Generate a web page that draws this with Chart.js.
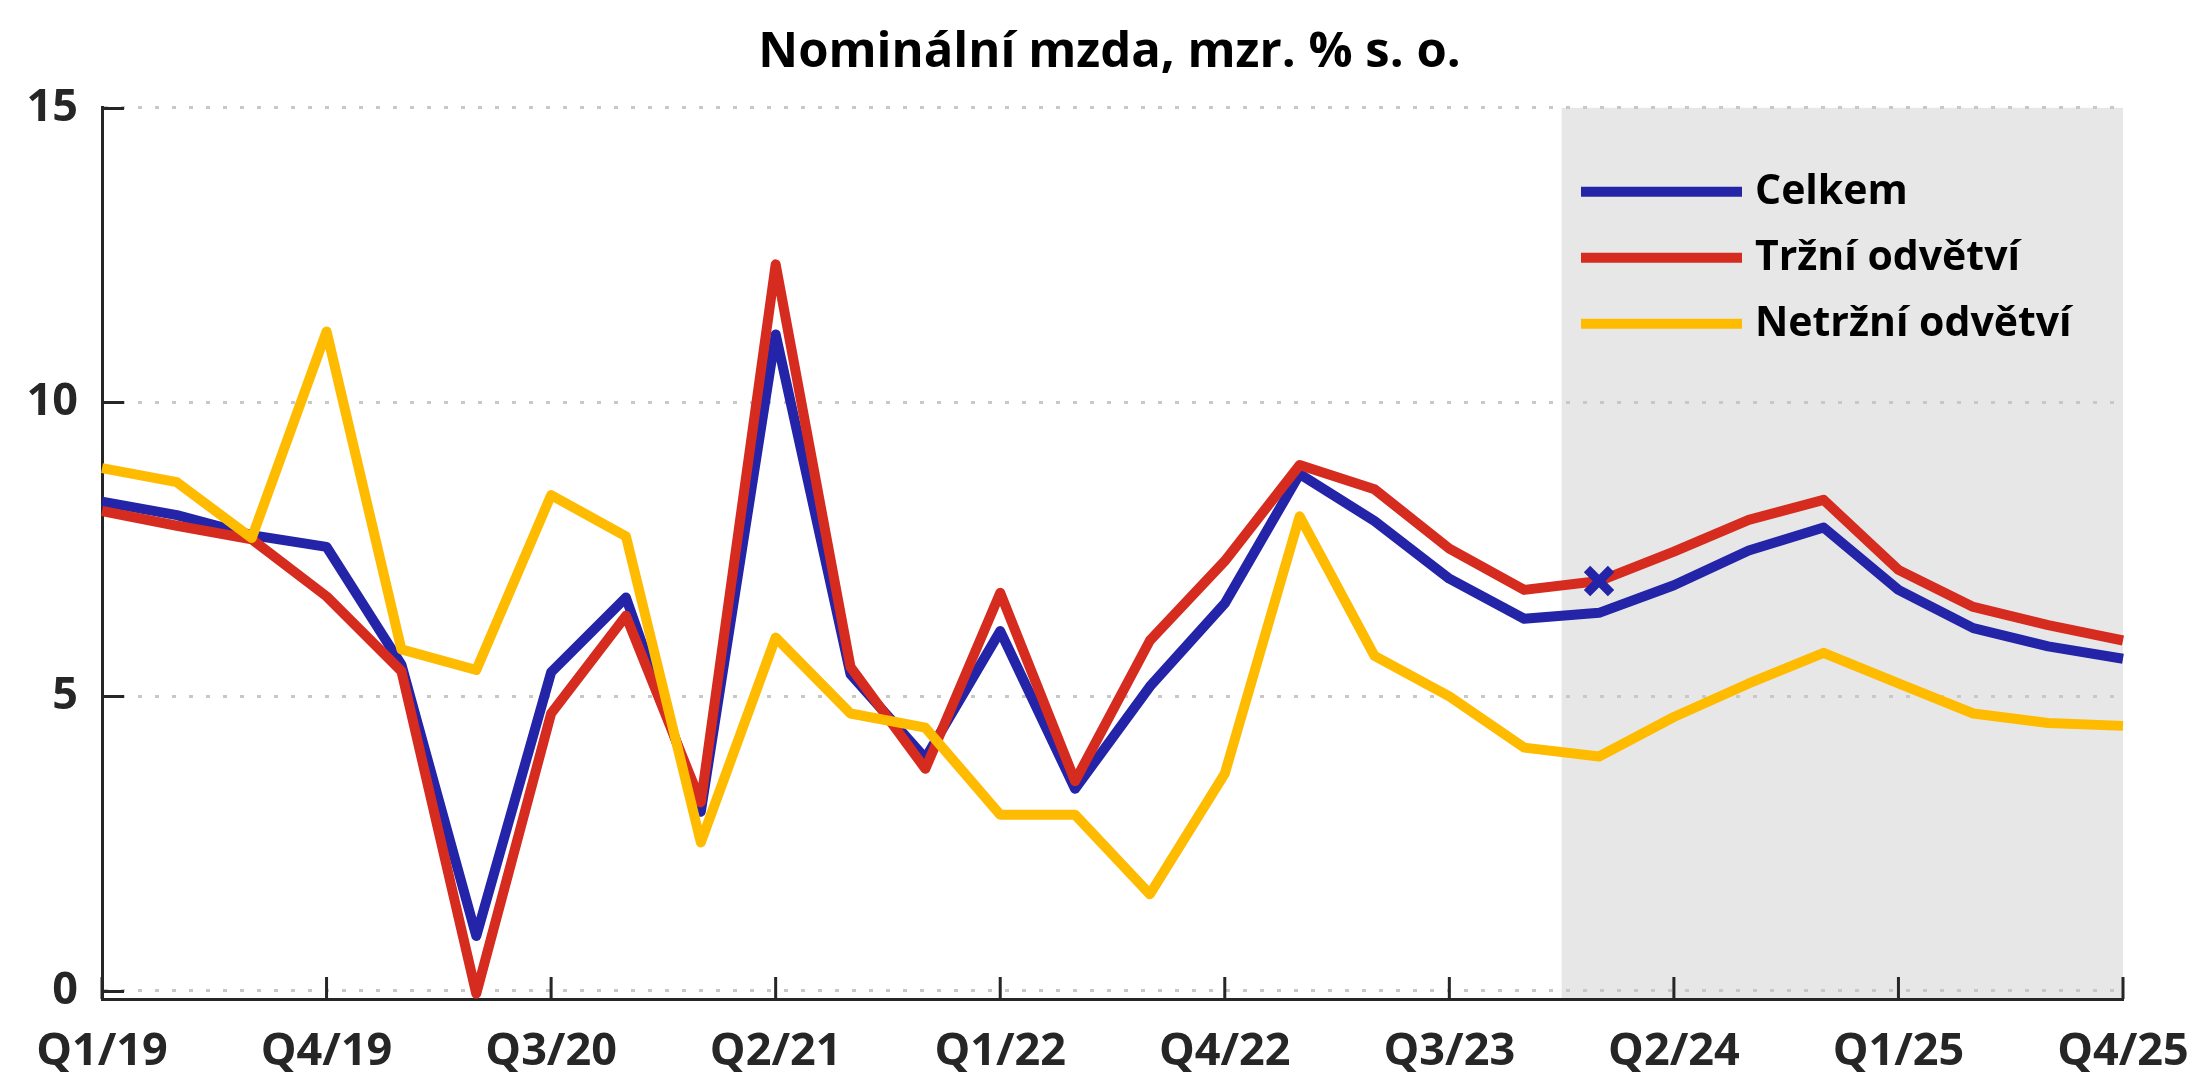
<!DOCTYPE html>
<html>
<head>
<meta charset="utf-8">
<script src="https://cdn.jsdelivr.net/npm/chart.js@4.4.1/dist/chart.umd.min.js"></script>
<style>
  html, body { margin: 0; padding: 0; background: #ffffff; }
  #wrap { width: 2203px; height: 1075px; }
</style>
</head>
<body>
<div id="wrap"><canvas id="wageChart" width="2203" height="1075"></canvas></div>
<script>
const quarters = [
    'Q1/19', 'Q2/19', 'Q3/19', 'Q4/19', 'Q1/20', 'Q2/20', 'Q3/20',
    'Q4/20', 'Q1/21', 'Q2/21', 'Q3/21', 'Q4/21', 'Q1/22', 'Q2/22',
    'Q3/22', 'Q4/22', 'Q1/23', 'Q2/23', 'Q3/23', 'Q4/23', 'Q1/24',
    'Q2/24', 'Q3/24', 'Q4/24', 'Q1/25', 'Q2/25', 'Q3/25', 'Q4/25'
];
const celkem = [8.31, 8.08, 7.74, 7.54, 5.54, 0.93, 5.41, 6.68, 3.04, 11.15, 5.38, 3.95, 6.11, 3.43,
                5.17, 6.58, 8.78, 7.98, 7.0, 6.32, 6.42, 6.89, 7.48, 7.87, 6.81, 6.16, 5.85, 5.64];
const trzni = [8.15, 7.9, 7.67, 6.7, 5.43, -0.05, 4.71, 6.37, 3.2, 12.34, 5.5, 3.77, 6.76, 3.56,
               5.95, 7.3, 8.93, 8.52, 7.51, 6.81, 6.96, 7.46, 8.0, 8.34, 7.15, 6.52, 6.21, 5.95];
const netrzni = [8.88, 8.64, 7.69, 11.2, 5.8, 5.45, 8.42, 7.72, 2.52, 6.0, 4.71, 4.47, 2.99, 2.99,
                 1.64, 3.69, 8.06, 5.69, 5.0, 4.13, 3.98, 4.65, 5.22, 5.74, 5.22, 4.71, 4.55, 4.5];
// last known value (Q1/24), marked with a cross
const markerValues = [null, null, null, null, null, null, null, null, null, null, null, null, null, null,
                      null, null, null, null, null, null, 6.96, null, null, null, null, null, null, null];
const yTicks = [0, 5, 10, 15];
const forecastStart = 19.5; // shaded forecast starts between Q4/23 and Q1/24

const FONT = "'Open Sans', sans-serif";
const AXIS = '#262626';

// grey forecast band behind everything
const forecastBand = {
    id: 'forecastBand',
    beforeDraw(chart) {
        const { ctx, chartArea, scales } = chart;
        const x0 = scales.x.getPixelForValue(forecastStart);
        const top = scales.y.getPixelForValue(15);
        ctx.save();
        ctx.fillStyle = '#e7e7e7';
        ctx.fillRect(x0, top, chartArea.right - x0, chartArea.bottom - top);
        ctx.restore();
    }
};

// tick marks pointing into the plot
const innerTicks = {
    id: 'innerTicks',
    beforeDatasetsDraw(chart) {
        const { ctx, chartArea, scales } = chart;
        ctx.save();
        ctx.strokeStyle = AXIS;
        ctx.lineWidth = 3;
        ctx.beginPath();
        yTicks.forEach(v => {
            const py = Math.round(scales.y.getPixelForValue(v)) + 0.5;
            ctx.moveTo(chartArea.left, py);
            ctx.lineTo(chartArea.left + 22, py);
        });
        quarters.forEach((q, i) => {
            if (i % 3 !== 0) return;
            const px = scales.x.getPixelForValue(i);
            ctx.moveTo(px, chartArea.bottom);
            ctx.lineTo(px, chartArea.bottom - 22);
        });
        ctx.stroke();
        ctx.restore();
    }
};

// legend drawn inside the shaded area
const insideLegend = {
    id: 'insideLegend',
    afterDatasetsDraw(chart) {
        const { ctx, chartArea } = chart;
        const lx = chartArea.right - 542;
        ctx.save();
        ctx.font = 'bold 41px ' + FONT;
        ctx.textBaseline = 'middle';
        ctx.textAlign = 'left';
        chart.data.datasets.slice(0, 3).forEach((ds, k) => {
            const ly = chartArea.top + 84 + k * 66;
            ctx.strokeStyle = ds.borderColor;
            ctx.lineWidth = 10;
            ctx.beginPath();
            ctx.moveTo(lx, ly);
            ctx.lineTo(lx + 161, ly);
            ctx.stroke();
            ctx.fillStyle = '#000000';
            ctx.fillText(ds.label, lx + 174, ly + 1);
        });
        ctx.restore();
    }
};

const lineStyle = {
    borderWidth: 10,
    pointRadius: 0,
    tension: 0,
    borderJoinStyle: 'round',
    borderCapStyle: 'butt'
};

new Chart(document.getElementById('wageChart'), {
    type: 'line',
    data: {
        labels: quarters,
        datasets: [
            { label: 'Celkem', data: celkem, borderColor: '#2424a8', order: 3, ...lineStyle },
            { label: 'Tržní odvětví', data: trzni, borderColor: '#d62b1f', order: 2, ...lineStyle },
            { label: 'Netržní odvětví', data: netrzni, borderColor: '#ffbb00', order: 1, ...lineStyle },
            {
                label: 'marker', data: markerValues, showLine: false, order: 0,
                pointStyle: 'crossRot', pointRadius: 17, pointBorderWidth: 9,
                pointBorderColor: '#2424a8', pointBackgroundColor: '#2424a8', borderColor: '#2424a8'
            }
        ]
    },
    options: {
        responsive: false,
        animation: false,
        layout: { padding: { left: 16, right: 0, top: 0, bottom: 0 } },
        plugins: {
            legend: { display: false },
            tooltip: { enabled: false },
            title: {
                display: true,
                text: 'Nominální mzda, mzr. % s. o.',
                color: '#000000',
                font: { family: FONT, size: 49, weight: 'bold' },
                padding: { top: 24, bottom: 25 }
            }
        },
        scales: {
            x: {
                offset: false,
                grid: { display: false, drawTicks: false },
                border: { display: true, color: AXIS, width: 3 },
                afterFit: s => { s.height = 76; s.paddingLeft = 0; s.paddingRight = 80; },
                ticks: {
                    autoSkip: false,
                    maxRotation: 0,
                    padding: 26,
                    color: AXIS,
                    font: { family: FONT, size: 45, weight: 'bold' },
                    callback: (v, i) => (i % 3 === 0 ? quarters[i] : '')
                }
            },
            y: {
                min: -0.14,
                max: 15,
                afterBuildTicks: s => { s.ticks = yTicks.map(v => ({ value: v })); },
                afterFit: s => { s.width = 86; },
                grid: { color: '#c8c8c8', lineWidth: 3, drawTicks: false },
                border: { display: true, color: AXIS, width: 3, dash: [4, 13] },
                ticks: {
                    padding: 24,
                    color: AXIS,
                    font: { family: FONT, size: 45, weight: 'bold' }
                }
            }
        }
    },
    plugins: [forecastBand, innerTicks, insideLegend]
});
</script>
</body>
</html>
